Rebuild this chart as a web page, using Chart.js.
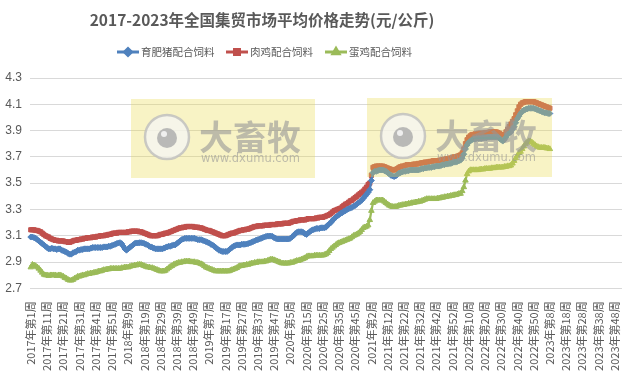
<!DOCTYPE html>
<html>
<head>
<meta charset="utf-8">
<script src="https://cdn.jsdelivr.net/npm/chart.js@4.4.1/dist/chart.umd.min.js"></script>
<style>
    html, body { margin: 0; padding: 0; background: #fff; }
    #wrap { width: 633px; height: 375px; position: relative; }
</style>
</head>
<body>
<div id="wrap"><canvas id="priceChart"></canvas></div>
<script>
// Années et nombre de semaines par année (axe des catégories)
const years = [2017, 2018, 2019, 2020, 2021, 2022, 2023];
const yearWeeks = [52, 52, 52, 53, 52, 52, 52];

const chartTitle = '2017-2023年全国集贸市场平均价格走势(元/公斤)';
const seriesNames = ['育肥猪配合饲料', '肉鸡配合饲料', '蛋鸡配合饲料'];
const seriesColors = ['#4F81BD', '#C0504D', '#9BBB59'];
const seriesMarkers = ['rectRot', 'rect', 'triangle'];

const yTicks = [2.7, 2.9, 3.1, 3.3, 3.5, 3.7, 3.9, 4.1, 4.3];

// 育肥猪配合饲料 (2017年第1周 -> 2023年第8周)
const pigFeed = [
    3.09, 3.09, 3.085, 3.08, 3.07, 3.06, 3.05, 3.04, 3.03, 3.02,
    3.01, 3.00, 3.00, 3.005, 3.00, 3.00, 2.995, 3.00, 3.00, 2.99,
    2.985, 2.98, 2.975, 2.965, 2.96, 2.96, 2.97, 2.975, 2.98, 2.99,
    2.99, 2.995, 2.995, 3.00, 3.00, 3.00, 3.00, 3.005, 3.01, 3.01,
    3.01, 3.01, 3.01, 3.01, 3.01, 3.015, 3.015, 3.015, 3.02, 3.02,
    3.025, 3.03, 3.035, 3.04, 3.045, 3.047, 3.04, 3.02, 3.00, 2.99,
    3.00, 3.01, 3.02, 3.03, 3.04, 3.045, 3.045, 3.047, 3.047, 3.045,
    3.04, 3.035, 3.03, 3.02, 3.015, 3.01, 3.005, 3.00, 3.00, 3.00,
    3.00, 3.00, 3.005, 3.01, 3.015, 3.02, 3.02, 3.025, 3.03, 3.03,
    3.04, 3.05, 3.06, 3.07, 3.075, 3.08, 3.08, 3.08, 3.08, 3.08,
    3.08, 3.08, 3.075, 3.07, 3.07, 3.07, 3.065, 3.06, 3.055, 3.05,
    3.045, 3.035, 3.03, 3.02, 3.01, 3.00, 2.99, 2.985, 2.98, 2.98,
    2.98, 2.98, 2.99, 3.00, 3.01, 3.02, 3.025, 3.03, 3.03, 3.03,
    3.035, 3.035, 3.035, 3.037, 3.04, 3.045, 3.05, 3.055, 3.06, 3.067,
    3.07, 3.075, 3.08, 3.085, 3.09, 3.095, 3.097, 3.097, 3.097, 3.095,
    3.085, 3.08, 3.075, 3.075, 3.075, 3.075, 3.075, 3.075, 3.075, 3.075,
    3.08, 3.09, 3.10, 3.115, 3.125, 3.13, 3.13, 3.13, 3.125, 3.115,
    3.11, 3.12, 3.13, 3.14, 3.145, 3.15, 3.155, 3.155, 3.155, 3.16,
    3.16, 3.16, 3.165, 3.18, 3.19, 3.20, 3.215, 3.23, 3.24, 3.25,
    3.26, 3.27, 3.275, 3.285, 3.29, 3.30, 3.305, 3.31, 3.315, 3.325,
    3.33, 3.34, 3.35, 3.36, 3.37, 3.385, 3.40, 3.415, 3.43, 3.45,
    3.52, 3.58, 3.59, 3.59, 3.595, 3.60, 3.60, 3.60, 3.595, 3.59,
    3.58, 3.57, 3.56, 3.555, 3.55, 3.555, 3.565, 3.575, 3.58, 3.585,
    3.59, 3.59, 3.595, 3.595, 3.60, 3.60, 3.60, 3.60, 3.60, 3.60,
    3.605, 3.61, 3.61, 3.615, 3.615, 3.62, 3.62, 3.62, 3.625, 3.625,
    3.63, 3.63, 3.63, 3.635, 3.64, 3.64, 3.645, 3.645, 3.65, 3.65,
    3.655, 3.66, 3.66, 3.665, 3.67, 3.675, 3.69, 3.72, 3.76, 3.79,
    3.81, 3.82, 3.83, 3.835, 3.835, 3.84, 3.84, 3.84, 3.84, 3.845,
    3.845, 3.845, 3.85, 3.85, 3.85, 3.85, 3.85, 3.85, 3.85, 3.84,
    3.83, 3.82, 3.83, 3.85, 3.87, 3.88, 3.89, 3.91, 3.93, 3.96,
    3.99, 4.01, 4.03, 4.045, 4.055, 4.06, 4.065, 4.07, 4.07, 4.07,
    4.07, 4.065, 4.06, 4.055, 4.05, 4.045, 4.04, 4.035, 4.035, 4.03,
    4.03
];

// 肉鸡配合饲料
const broilerFeed = [
    3.145, 3.145, 3.145, 3.14, 3.14, 3.135, 3.13, 3.12, 3.11, 3.10,
    3.095, 3.09, 3.08, 3.075, 3.07, 3.065, 3.065, 3.06, 3.06, 3.06,
    3.06, 3.055, 3.055, 3.05, 3.05, 3.055, 3.06, 3.065, 3.065, 3.07,
    3.07, 3.075, 3.075, 3.08, 3.08, 3.085, 3.085, 3.085, 3.09, 3.09,
    3.09, 3.095, 3.095, 3.10, 3.10, 3.10, 3.105, 3.105, 3.11, 3.11,
    3.115, 3.12, 3.12, 3.12, 3.125, 3.125, 3.125, 3.125, 3.125, 3.125,
    3.13, 3.13, 3.135, 3.135, 3.135, 3.135, 3.135, 3.13, 3.13, 3.125,
    3.12, 3.115, 3.11, 3.105, 3.10, 3.10, 3.10, 3.10, 3.10, 3.105,
    3.11, 3.11, 3.115, 3.12, 3.12, 3.125, 3.13, 3.135, 3.14, 3.145,
    3.15, 3.155, 3.16, 3.16, 3.165, 3.165, 3.17, 3.17, 3.17, 3.17,
    3.17, 3.165, 3.165, 3.165, 3.16, 3.16, 3.155, 3.15, 3.145, 3.14,
    3.14, 3.135, 3.13, 3.125, 3.12, 3.115, 3.11, 3.105, 3.10, 3.10,
    3.10, 3.105, 3.11, 3.115, 3.12, 3.12, 3.125, 3.13, 3.135, 3.14,
    3.14, 3.145, 3.145, 3.15, 3.15, 3.155, 3.16, 3.165, 3.17, 3.17,
    3.175, 3.175, 3.175, 3.175, 3.18, 3.18, 3.18, 3.18, 3.185, 3.185,
    3.185, 3.185, 3.19, 3.19, 3.19, 3.19, 3.195, 3.195, 3.195, 3.195,
    3.20, 3.205, 3.21, 3.21, 3.215, 3.215, 3.22, 3.22, 3.22, 3.22,
    3.225, 3.23, 3.23, 3.23, 3.23, 3.23, 3.235, 3.235, 3.24, 3.24,
    3.24, 3.245, 3.25, 3.255, 3.26, 3.27, 3.28, 3.29, 3.295, 3.30,
    3.305, 3.31, 3.32, 3.33, 3.34, 3.345, 3.355, 3.365, 3.37, 3.38,
    3.39, 3.40, 3.41, 3.42, 3.43, 3.44, 3.455, 3.47, 3.49, 3.50,
    3.56, 3.62, 3.625, 3.63, 3.63, 3.63, 3.63, 3.63, 3.625, 3.62,
    3.615, 3.61, 3.605, 3.60, 3.60, 3.605, 3.61, 3.62, 3.625, 3.63,
    3.63, 3.635, 3.64, 3.64, 3.64, 3.64, 3.645, 3.645, 3.645, 3.65,
    3.65, 3.655, 3.655, 3.66, 3.66, 3.66, 3.665, 3.665, 3.67, 3.67,
    3.67, 3.67, 3.675, 3.675, 3.68, 3.68, 3.685, 3.685, 3.69, 3.69,
    3.695, 3.70, 3.70, 3.705, 3.71, 3.715, 3.73, 3.76, 3.80, 3.83,
    3.85, 3.86, 3.87, 3.87, 3.875, 3.875, 3.88, 3.88, 3.88, 3.88,
    3.885, 3.885, 3.885, 3.89, 3.89, 3.89, 3.89, 3.89, 3.885, 3.88,
    3.87, 3.865, 3.87, 3.89, 3.91, 3.93, 3.95, 3.97, 3.99, 4.02,
    4.05, 4.08, 4.10, 4.11, 4.115, 4.12, 4.12, 4.12, 4.12, 4.12,
    4.12, 4.115, 4.11, 4.105, 4.10, 4.095, 4.09, 4.085, 4.08, 4.075,
    4.07
];

// 蛋鸡配合饲料
const layerFeed = [
    2.86, 2.88, 2.875, 2.87, 2.86, 2.85, 2.835, 2.82, 2.805, 2.80,
    2.80, 2.795, 2.80, 2.80, 2.80, 2.80, 2.795, 2.80, 2.80, 2.795,
    2.79, 2.78, 2.775, 2.765, 2.76, 2.76, 2.765, 2.775, 2.78, 2.79,
    2.79, 2.795, 2.80, 2.80, 2.805, 2.81, 2.81, 2.815, 2.815, 2.82,
    2.82, 2.825, 2.83, 2.83, 2.835, 2.84, 2.84, 2.845, 2.845, 2.85,
    2.85, 2.85, 2.85, 2.85, 2.85, 2.85, 2.855, 2.855, 2.86, 2.86,
    2.86, 2.865, 2.87, 2.87, 2.875, 2.875, 2.88, 2.88, 2.88, 2.875,
    2.87, 2.865, 2.86, 2.86, 2.855, 2.855, 2.85, 2.845, 2.84, 2.835,
    2.83, 2.83, 2.83, 2.835, 2.845, 2.855, 2.865, 2.87, 2.88, 2.885,
    2.89, 2.895, 2.895, 2.90, 2.90, 2.905, 2.905, 2.905, 2.905, 2.90,
    2.90, 2.90, 2.895, 2.895, 2.89, 2.885, 2.88, 2.87, 2.86, 2.855,
    2.85, 2.845, 2.84, 2.835, 2.83, 2.83, 2.83, 2.83, 2.83, 2.83,
    2.83, 2.83, 2.83, 2.835, 2.84, 2.845, 2.85, 2.855, 2.865, 2.87,
    2.87, 2.875, 2.875, 2.88, 2.88, 2.885, 2.89, 2.89, 2.895, 2.895,
    2.90, 2.90, 2.90, 2.90, 2.905, 2.905, 2.91, 2.915, 2.92, 2.92,
    2.915, 2.91, 2.905, 2.90, 2.895, 2.89, 2.89, 2.89, 2.89, 2.89,
    2.895, 2.895, 2.90, 2.905, 2.91, 2.91, 2.915, 2.92, 2.925, 2.93,
    2.94, 2.945, 2.945, 2.945, 2.945, 2.95, 2.95, 2.95, 2.95, 2.95,
    2.95, 2.955, 2.96, 2.97, 2.985, 3.00, 3.01, 3.02, 3.03, 3.04,
    3.045, 3.05, 3.055, 3.06, 3.065, 3.07, 3.075, 3.08, 3.09, 3.10,
    3.105, 3.11, 3.12, 3.13, 3.145, 3.16, 3.165, 3.17, 3.18, 3.22,
    3.29, 3.35, 3.36, 3.37, 3.37, 3.37, 3.37, 3.37, 3.36, 3.35,
    3.34, 3.33, 3.325, 3.32, 3.32, 3.32, 3.325, 3.33, 3.33, 3.335,
    3.335, 3.34, 3.34, 3.345, 3.345, 3.35, 3.35, 3.355, 3.355, 3.36,
    3.36, 3.365, 3.37, 3.375, 3.38, 3.38, 3.38, 3.38, 3.38, 3.38,
    3.38, 3.385, 3.385, 3.39, 3.39, 3.395, 3.395, 3.40, 3.40, 3.405,
    3.405, 3.41, 3.41, 3.415, 3.42, 3.42, 3.44, 3.47, 3.52, 3.57,
    3.59, 3.60, 3.60, 3.60, 3.60, 3.60, 3.60, 3.605, 3.605, 3.605,
    3.61, 3.61, 3.61, 3.61, 3.615, 3.615, 3.615, 3.62, 3.62, 3.62,
    3.62, 3.62, 3.625, 3.625, 3.63, 3.63, 3.635, 3.65, 3.67, 3.69,
    3.71, 3.73, 3.74, 3.76, 3.78, 3.80, 3.81, 3.82, 3.82, 3.81,
    3.80, 3.79, 3.78, 3.775, 3.77, 3.77, 3.77, 3.77, 3.765, 3.765,
    3.76
];

// Construire les libellés de catégories: "2017年第1周" ...
const weekLabels = [];
years.forEach((y, i) => {
    for (let w = 1; w <= yearWeeks[i]; w++) {
        weekLabels.push(y + '年第' + w + '周');
    }
});

const textColor = '#595959';
const cjkFont = '"Noto Sans CJK SC", "Noto Sans", sans-serif';

// Titre + légende dessinés à la main (décalés à gauche comme l'original)
const headerPlugin = {
    id: 'header',
    afterDraw: (chart) => {
        const ctx = chart.ctx;
        ctx.save();
        ctx.fillStyle = textColor;
        ctx.font = 'bold 15.5px ' + cjkFont;
        ctx.textAlign = 'center';
        ctx.textBaseline = 'middle';
        ctx.fillText(chartTitle, 262, 20);

        const starts = [117, 226, 325];
        const legY = 52;
        seriesNames.forEach((name, i) => {
            const x0 = starts[i];
            ctx.strokeStyle = seriesColors[i];
            ctx.lineWidth = 3;
            ctx.beginPath();
            ctx.moveTo(x0, legY);
            ctx.lineTo(x0 + 22, legY);
            ctx.stroke();
            Chart.helpers.drawPoint(ctx, {
                pointStyle: seriesMarkers[i], radius: 3.5, rotation: 0, borderWidth: 1
            }, x0 + 11, legY);
            ctx.fillStyle = seriesColors[i];
            ctx.strokeStyle = seriesColors[i];
            ctx.beginPath();
            if (seriesMarkers[i] === 'rect') {
                ctx.fillRect(x0 + 7.5, legY - 3.5, 7, 7);
            } else if (seriesMarkers[i] === 'rectRot') {
                ctx.moveTo(x0 + 11, legY - 3.5); ctx.lineTo(x0 + 14.5, legY);
                ctx.lineTo(x0 + 11, legY + 3.5); ctx.lineTo(x0 + 7.5, legY);
                ctx.closePath(); ctx.fill();
            } else {
                ctx.moveTo(x0 + 11, legY - 4); ctx.lineTo(x0 + 15, legY + 3);
                ctx.lineTo(x0 + 7, legY + 3); ctx.closePath(); ctx.fill();
            }
            ctx.fillStyle = textColor;
            ctx.font = '10.5px ' + cjkFont;
            ctx.textAlign = 'left';
            ctx.fillText(name, x0 + 24, legY + 0.5);
        });
        ctx.restore();
    }
};

// Filigrane jaune semi-transparent par-dessus les courbes
const watermarkPlugin = {
    id: 'watermark',
    afterDatasetsDraw: (chart) => {
        const ctx = chart.ctx;
        const boxes = [[131, 99, 184, 79], [367, 98, 185, 79]];
        ctx.save();
        boxes.forEach(([bx, by, bw, bh]) => {
            ctx.fillStyle = 'rgba(235, 220, 80, 0.33)';
            ctx.fillRect(bx, by, bw, bh);
            // logo rond
            const cx = bx + 36, cy = by + 38;
            ctx.beginPath();
            ctx.arc(cx, cy, 22, 0, Math.PI * 2);
            ctx.fillStyle = 'rgba(245, 245, 245, 0.75)';
            ctx.fill();
            ctx.lineWidth = 2.5;
            ctx.strokeStyle = 'rgba(190, 190, 190, 0.8)';
            ctx.stroke();
            ctx.beginPath();
            ctx.arc(cx, cy + 1, 10, 0, Math.PI * 2);
            ctx.fillStyle = 'rgba(175, 175, 175, 0.85)';
            ctx.fill();
            ctx.beginPath();
            ctx.arc(cx - 3, cy - 3, 3, 0, Math.PI * 2);
            ctx.fillStyle = 'rgba(245, 245, 245, 0.9)';
            ctx.fill();
            // texte
            ctx.fillStyle = 'rgba(150, 150, 150, 0.6)';
            ctx.font = 'bold 34px ' + cjkFont;
            ctx.textAlign = 'left';
            ctx.textBaseline = 'middle';
            ctx.fillText('大畜牧', bx + 68, by + 38);
            ctx.font = '11.5px "DejaVu Sans", sans-serif';
            ctx.fillText('www.dxumu.com', bx + 70, by + 60);
        });
        ctx.restore();
    }
};

function makeDataset(idx, values) {
    return {
        label: seriesNames[idx],
        data: values,
        borderColor: seriesColors[idx],
        backgroundColor: seriesColors[idx],
        borderWidth: 2.25,
        pointStyle: seriesMarkers[idx],
        pointRadius: idx === 2 ? 3.2 : 3,
        pointBorderWidth: 1,
        pointHoverRadius: 3,
        tension: 0,
        fill: false
    };
}

const ctx = document.getElementById('priceChart').getContext('2d');
new Chart(ctx, {
    type: 'line',
    data: {
        labels: weekLabels,
        datasets: [
            makeDataset(0, pigFeed),
            makeDataset(1, broilerFeed),
            makeDataset(2, layerFeed)
        ]
    },
    options: {
        responsive: true,
        maintainAspectRatio: false,
        animation: false,
        layout: {
            padding: { top: 78, right: 11, left: 0, bottom: 0 }
        },
        plugins: {
            legend: { display: false },
            title: { display: false },
            tooltip: { enabled: false }
        },
        scales: {
            x: {
                offset: true,
                grid: { display: false },
                border: { display: false },
                ticks: {
                    autoSkip: false,
                    minRotation: 90,
                    maxRotation: 90,
                    padding: 5,
                    color: textColor,
                    font: { size: 11, family: cjkFont },
                    callback: function(value, index) {
                        return index % 10 === 0 ? weekLabels[index] : null;
                    }
                },
                afterFit: (scale) => { scale.height = 86.7; }
            },
            y: {
                min: yTicks[0],
                max: yTicks[yTicks.length - 1],
                afterBuildTicks: (scale) => {
                    scale.ticks = yTicks.map(v => ({ value: v }));
                },
                grid: { color: '#D9D9D9', lineWidth: 1, drawTicks: false },
                border: { display: false },
                ticks: {
                    padding: 8,
                    color: textColor,
                    font: { size: 12, family: '"Liberation Sans", Arial, sans-serif' },
                    callback: (value) => value.toFixed(1)
                },
                afterFit: (scale) => { scale.width = 30; }
            }
        }
    },
    plugins: [watermarkPlugin, headerPlugin]
});

console.log('chart ok');
</script>
</body>
</html>
